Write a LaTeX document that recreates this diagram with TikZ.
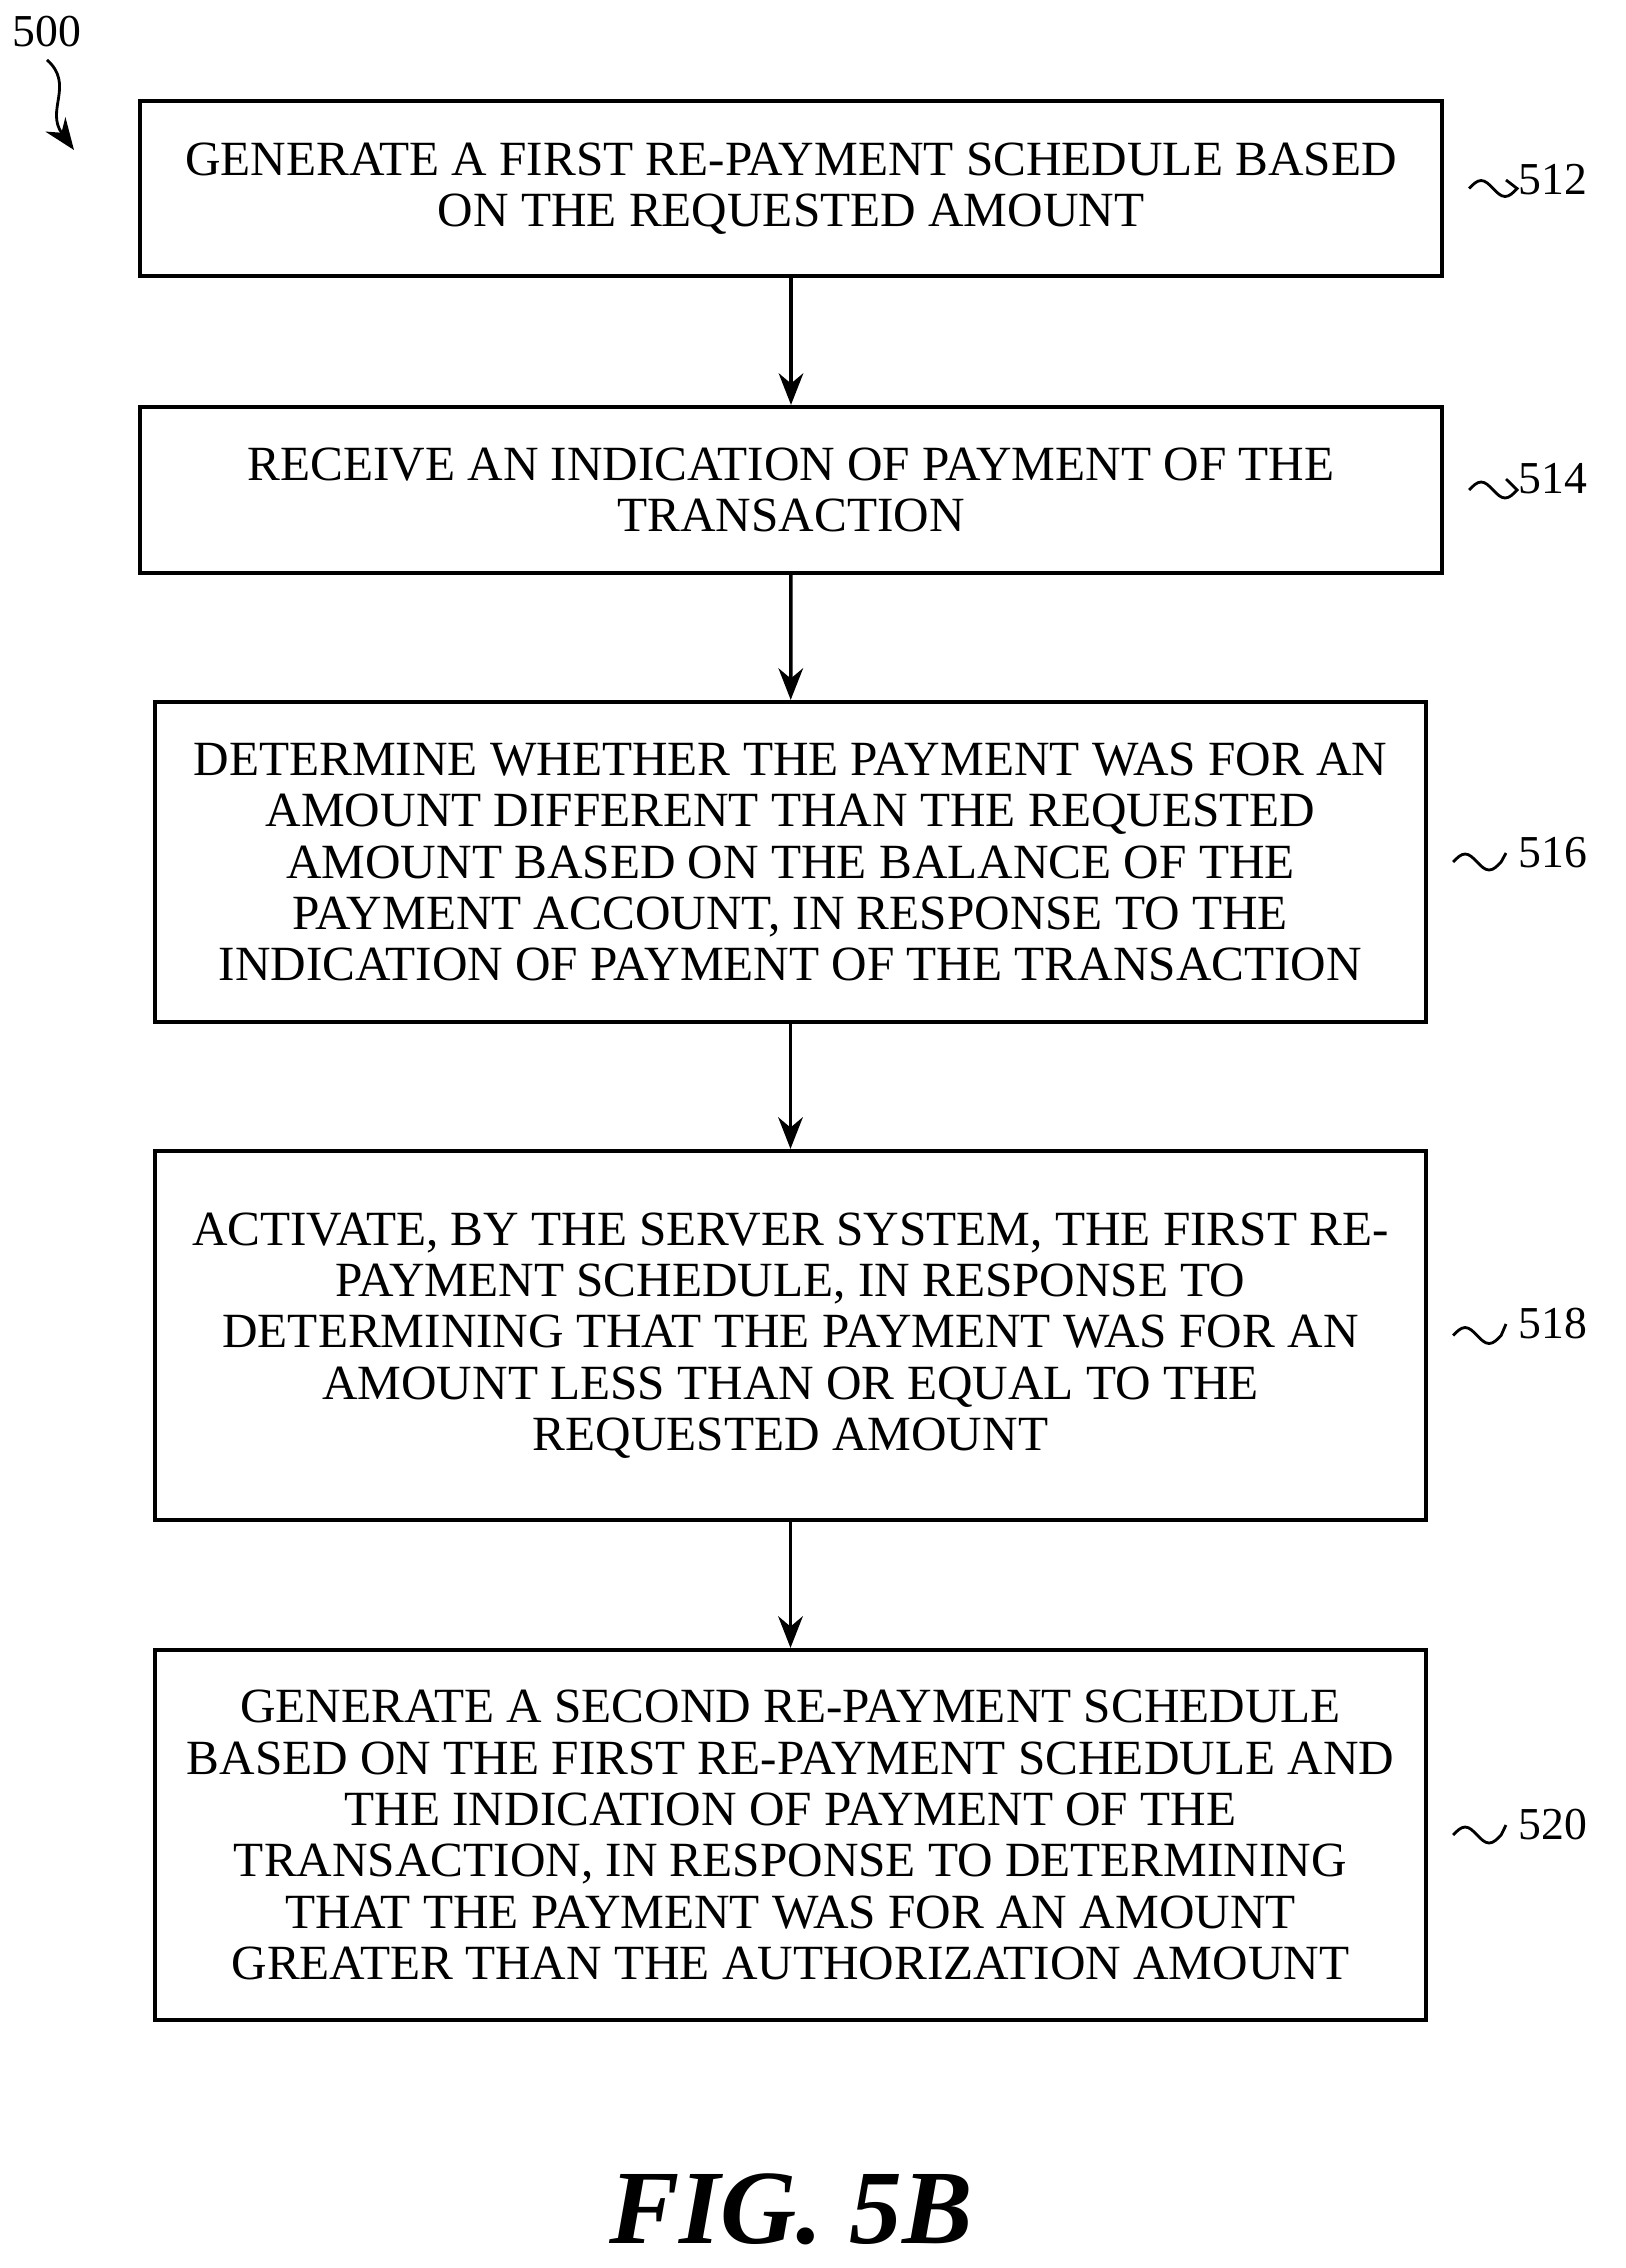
\documentclass[tikz,border=0pt]{standalone}
\usepackage{fontspec}
\setmainfont{Liberation Serif}
\usetikzlibrary{arrows.meta}

\tikzset{
  box/.style={draw,line width=1.2pt,align=center,inner sep=0pt,
    font=\fontsize{14}{14.6}\selectfont},
  flow/.style={-{Stealth[length=9pt,width=7pt]},line width=1pt},
  ref/.style={font=\fontsize{13}{13}\selectfont,anchor=west}
}
\newcommand{\squig}[2]{\draw[line width=0.8pt] (#1) ++(0.25,0) sin ++(0.12,0.08) cos ++(0.12,-0.08) sin ++(0.12,-0.08) cos ++(0.12,0.08) -- (#2.west);}

\begin{document}
\begin{tikzpicture}
\useasboundingbox (0,0) rectangle (16.26,-22.68);
% boxes
\node[box,minimum width=13.02cm,minimum height=1.75cm] (gen1) at (7.91,-1.885)
  {GENERATE A FIRST RE-PAYMENT SCHEDULE BASED\\ON THE REQUESTED AMOUNT};
\node[box,minimum width=13.02cm,minimum height=1.66cm] (recv) at (7.91,-4.90)
  {RECEIVE AN INDICATION OF PAYMENT OF THE\\TRANSACTION};
\node[box,minimum width=12.71cm,minimum height=3.20cm] (det) at (7.905,-8.62)
  {DETERMINE WHETHER THE PAYMENT WAS FOR AN\\AMOUNT DIFFERENT THAN THE REQUESTED\\AMOUNT BASED ON THE BALANCE OF THE\\PAYMENT ACCOUNT, IN RESPONSE TO THE\\INDICATION OF PAYMENT OF THE TRANSACTION};
\node[box,minimum width=12.71cm,minimum height=3.69cm] (act) at (7.905,-13.355)
  {ACTIVATE, BY THE SERVER SYSTEM, THE FIRST RE-\\PAYMENT SCHEDULE, IN RESPONSE TO\\DETERMINING THAT THE PAYMENT WAS FOR AN\\AMOUNT LESS THAN OR EQUAL TO THE\\REQUESTED AMOUNT};
\node[box,minimum width=12.71cm,minimum height=3.70cm] (gen2) at (7.905,-18.35)
  {GENERATE A SECOND RE-PAYMENT SCHEDULE\\BASED ON THE FIRST RE-PAYMENT SCHEDULE AND\\THE INDICATION OF PAYMENT OF THE\\TRANSACTION, IN RESPONSE TO DETERMINING\\THAT THE PAYMENT WAS FOR AN AMOUNT\\GREATER THAN THE AUTHORIZATION AMOUNT};
% arrows
\draw[flow] (gen1) -- (recv);
\draw[flow] (recv) -- (det);
\draw[flow] (det) -- (act);
\draw[flow] (act) -- (gen2);
% reference numerals
\node[ref] (n512) at (15.06,-1.80) {512};
\node[ref] (n514) at (15.06,-4.79) {514};
\node[ref] (n516) at (15.06,-8.53) {516};
\node[ref] (n518) at (15.06,-13.24) {518};
\node[ref] (n520) at (15.06,-18.25) {520};
\squig{gen1.east}{n512}
\squig{recv.east}{n514}
\squig{det.east}{n516}
\squig{act.east}{n518}
\squig{gen2.east}{n520}
\node[font=\fontsize{13}{13}\selectfont] (n500) at (0.47,-0.32) {500};
\coordinate (tip) at (0.74,-1.50);
\draw[-{Stealth[length=9pt,width=7pt]},line width=0.8pt] (n500.south)
  .. controls (0.75,-0.85) and (0.45,-1.10) .. (tip);
\node[font=\bfseries\itshape\fontsize{30}{30}\selectfont] (fig) at (7.91,-22.09) {FIG. 5B};
\end{tikzpicture}
\end{document}
